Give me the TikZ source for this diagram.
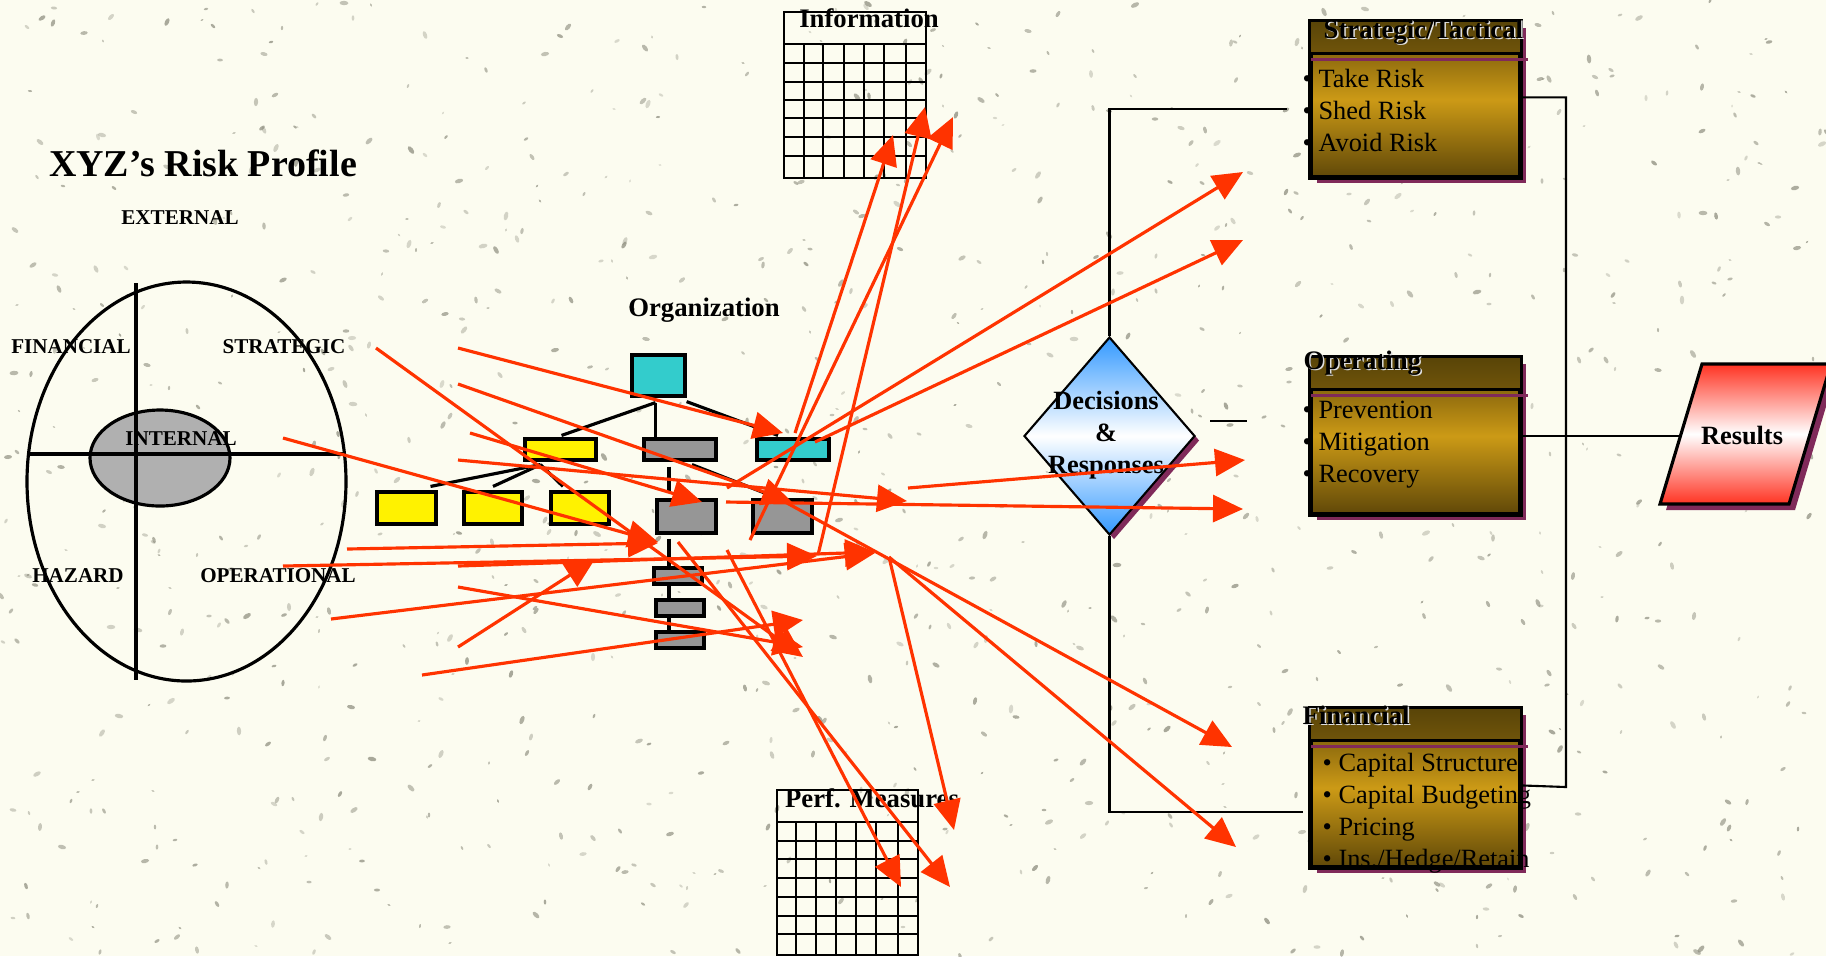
\documentclass[tikz,border=0pt]{standalone}
\usepackage{fontspec}
\setmainfont{Liberation Serif}
\usetikzlibrary{arrows.meta,calc,positioning,shapes.geometric,shadows}

\definecolor{paper}{RGB}{252,252,240}
\definecolor{speck}{RGB}{140,140,125}
\definecolor{riskred}{RGB}{255,51,0}
\definecolor{tealbox}{RGB}{51,204,204}
\definecolor{graybox}{RGB}{150,150,150}
\definecolor{plum}{RGB}{128,42,90}
\definecolor{ochre}{RGB}{204,154,22}
\definecolor{umber}{RGB}{96,72,8}
\definecolor{umberdark}{RGB}{88,68,8}
\definecolor{skyblue}{RGB}{51,153,255}
\definecolor{alarm}{RGB}{255,51,34}

\begin{document}
\begin{tikzpicture}[x=0.1mm,y=-0.1mm,
  every node/.style={inner sep=0pt},
  caps/.style={font=\fontsize{6}{7}\selectfont\bfseries},
  heading/.style={font=\fontsize{7.6}{9}\selectfont\bfseries},
  boxlist/.style={font=\fontsize{7.5}{9.1}\selectfont,align=left,anchor=west},
  orgbox/.style={draw=black,line width=0.9pt},
  orgline/.style={draw=black,line width=0.9pt},
  wire/.style={draw=black,line width=0.6pt},
  gridline/.style={draw=black,line width=0.6pt},
  riskbox/.style={draw=black,line width=0.9pt,minimum width=20.9mm,
    top color=umber,bottom color=umber,middle color=ochre,
    drop shadow={shadow xshift=0.6mm,shadow yshift=-0.6mm,fill=plum,opacity=1}},
  riskarrow/.style={draw=riskred,line width=0.9pt,-{Triangle[length=3mm,width=2.7mm]}}]

  % paper and speckles
  \fill[paper] (0,0) rectangle (1826,956);
  \useasboundingbox (0,0) rectangle (1826,956);
  \pgfmathsetseed{42}
  \foreach \i in {1,...,1000}{
    \pgfmathsetmacro\sx{random(0,1826)}
    \pgfmathsetmacro\sy{random(0,956)}
    \pgfmathsetmacro\sr{1.5+3*rnd}
    \pgfmathsetmacro\sa{random(0,179)}
    \pgfmathsetmacro\so{0.3+0.45*rnd}
    \fill[speck,fill opacity=\so,rotate around={\sa:(\sx,\sy)}]
      (\sx,\sy) ellipse [x radius=\sr, y radius=0.5*\sr];
  }

  % risk profile
  \node[font=\fontsize{10.8}{13}\selectfont\bfseries] (title) at (203,163) {XYZ’s Risk Profile};
  \node[caps] (external) at (180,218) {EXTERNAL};
  \node[ellipse,draw=black,line width=0.9pt,minimum width=31.9mm,minimum height=39.9mm] (outer) at (186.5,481.5) {};
  \node[ellipse,draw=black,line width=0.9pt,fill=graybox!75,minimum width=14mm,minimum height=9.6mm] (inner) at (160,458) {};
  \coordinate (vtop) at (136,283);
  \coordinate (vbot) at (136,680);
  \coordinate (hlft) at (27,454);
  \coordinate (hrgt) at (346,454);
  \draw[orgline] (vtop) -- (vbot);
  \draw[orgline] (hlft) -- (hrgt);
  \node[caps] (financial) at (71,347) {FINANCIAL};
  \node[caps] (strategic) at (284,347) {STRATEGIC};
  \node[caps] (internal) at (181,439) {INTERNAL};
  \node[caps] (hazard) at (78,576) {HAZARD};
  \node[caps] (operational) at (278,576) {OPERATIONAL};

  % organization chart
  \node[heading] (orglabel) at (704,310) {Organization};
  \node[orgbox,fill=tealbox,minimum width=5.3mm,minimum height=4.1mm] (topbox) at (658.5,375.5) {};
  \node[orgbox,fill=yellow,minimum width=7.1mm,minimum height=2.1mm] (y2) at (560.5,449.5) {};
  \node[orgbox,fill=graybox,minimum width=7.2mm,minimum height=2.1mm] (g2) at (680,449.5) {};
  \node[orgbox,fill=tealbox,minimum width=7.2mm,minimum height=2.1mm] (c2) at (793,449.5) {};
  \node[orgbox,fill=yellow,minimum width=5.9mm,minimum height=3.2mm] (y3a) at (406.5,508) {};
  \node[orgbox,fill=yellow,minimum width=5.8mm,minimum height=3.2mm] (y3b) at (493,508) {};
  \node[orgbox,fill=yellow,minimum width=5.8mm,minimum height=3.2mm] (y3c) at (580,508) {};
  \node[orgbox,fill=graybox,minimum width=5.9mm,minimum height=3.3mm] (g3a) at (686.5,516.5) {};
  \node[orgbox,fill=graybox,minimum width=5.9mm,minimum height=3.3mm] (g3b) at (782.5,516.5) {};
  \node[orgbox,fill=graybox,minimum width=4.8mm,minimum height=1.6mm] (s1) at (678,576) {};
  \node[orgbox,fill=graybox,minimum width=4.8mm,minimum height=1.6mm] (s2) at (680,608) {};
  \node[orgbox,fill=graybox,minimum width=4.8mm,minimum height=1.6mm] (s3) at (680,640) {};

  \coordinate (topfoot) at ($(topbox.south)+(-3,5)$);
  \coordinate (yfan) at ($(y2.south)+(-20,3)$);
  \coordinate (spine) at (669,0);
  \draw[orgline] (topfoot) -- ($(y2.north)+(1,-2)$);
  \draw[orgline] (topfoot) -- (topfoot |- g2.north);
  \draw[orgline] ($(topbox.south east)+(0,4)$) -- ($(c2.north)+(-15,-2)$);
  \draw[orgline] (yfan) -- ($(y3a.north)+(24,-4)$);
  \draw[orgline] (yfan) -- ($(y3b.north)+(0,-4)$);
  \draw[orgline] (yfan) -- ($(y3c.north)+(-17,-4)$);
  \draw[orgline] ($(g2.south)+(12,3)$) -- ($(g3b.north)+(-4,0)$);
  \draw[orgline] ($(g2.south -| spine)+(0,5)$) -- ($(g3a.north -| spine)+(0,-5)$);
  \draw[orgline] ($(g3a.south -| spine)+(0,4)$) -- (s1.north -| spine);
  \draw[orgline] (s1.south -| spine) -- (s2.north -| spine);
  \draw[orgline] (s2.south -| spine) -- (s3.north -| spine);

  % information and measures grids
  \draw[gridline] (784,12) rectangle (926,178);
  \draw[gridline] (784,44) -- (926,44);
  \foreach \gx in {804,823,844,864,884,906} \draw[gridline] (\gx,44) -- (\gx,178);
  \foreach \gy in {63,82,100,118,137,156} \draw[gridline] (784,\gy) -- (926,\gy);
  \node[heading] (info) at (869,18) {Information};

  \draw[gridline] (777,790) rectangle (918,955);
  \draw[gridline] (777,822) -- (918,822);
  \foreach \gx in {796,816,836,856,876,898} \draw[gridline] (\gx,822) -- (\gx,955);
  \foreach \gy in {841,859,878,897,916,934} \draw[gridline] (777,\gy) -- (918,\gy);
  \node[heading] (perf) at (872,798) {Perf. Measures};

  % decisions
  \node[diamond,draw=black,line width=0.6pt,minimum width=17.1mm,minimum height=19.8mm,
    top color=skyblue,bottom color=skyblue,middle color=white,
    drop shadow={shadow xshift=0.45mm,shadow yshift=-0.45mm,fill=plum,opacity=1}] (decide) at (1109.5,436) {};
  \node[heading,align=center,font=\fontsize{7.5}{9.1}\selectfont\bfseries] (dtext) at (1106,435) {Decisions\\\&\\Responses};
  \coordinate (stratin) at (1287,109);
  \coordinate (finin) at (1303,812);
  \coordinate (stubA) at (1210,421);
  \coordinate (stubB) at (1247,421);
  \draw[wire] (decide.north) |- (stratin);
  \draw[wire] (decide.south) |- (finin);
  \draw[wire] (stubA) -- (stubB);

  % response boxes
  \node[riskbox,minimum height=15.5mm] (strat) at (1415.5,99.5) {};
  \node[riskbox,minimum height=15.6mm] (oper) at (1415.5,436) {};
  \node[riskbox,minimum height=15.8mm] (fin) at (1415.5,788) {};
  \foreach \b in {strat,oper,fin}{
    \shade[top color=umberdark,bottom color=umber!85!ochre] (\b.north west) rectangle ($(\b.north east)+(0,33)$);
    \draw[orgbox] (\b.north west) rectangle (\b.south east);
    \draw[orgline] ($(\b.north west)+(0,33)$) -- ($(\b.north east)+(0,33)$);
    \draw[plum,line width=0.8pt] ($(\b.north west)+(2,39)$) -- ($(\b.north east)+(6,39)$);
  }
  \node[heading,anchor=west,text=white!75!gray] (strattitleshade) at (1324.5,33.5) {Strategic/Tactical};
  \node[heading,anchor=west] (strattitle) at (1323,32) {Strategic/Tactical};
  \node[heading,anchor=west,text=white!75!gray] (opertitleshade) at (1304.5,364.5) {Operating};
  \node[heading,anchor=west] (opertitle) at (1303,363) {Operating};
  \node[heading,anchor=west,text=white!75!gray] (fintitleshade) at (1303.5,716.5) {Financial};
  \node[heading,anchor=west] (fintitle) at (1302,715) {Financial};
  \node[boxlist] (stratlist) at (1302,110) {• Take Risk\\• Shed Risk\\• Avoid Risk};
  \node[boxlist] (operlist) at (1302,445) {• Prevention\\• Mitigation\\• Recovery};
  \node[boxlist] (finlist) at (1322,813) {• Capital Structure\\• Capital Budgeting\\• Pricing\\• Ins./Hedge/Retain};

  % results
  \fill[plum] (1666,510) -- (1708,370) -- (1837,370) -- (1795,510) -- cycle;
  \shadedraw[top color=alarm,bottom color=alarm,middle color=white,draw=black,line width=0.9pt]
    (1660,504) -- (1702,364) -- (1831,364) -- (1789,504) -- cycle;
  \node[heading,font=\fontsize{7.5}{9}\selectfont\bfseries] (results) at (1742,435) {Results};
  \coordinate (resultsin) at (1681,436);
  \coordinate (busBot) at (1566,787);
  \draw[wire] ($(strat.north east)+(0,77)$) -| (busBot) -- ($(fin.north east)+(0,78)$);
  \draw[wire] (oper.east) -- (resultsin);

  % risk flows
  \foreach \ax/\ay/\bx/\by [count=\k] in {
      458/348/783/433, 376/348/803/657, 458/384/792/502, 283/438/658/542,
      470/433/702/502, 458/460/907/501, 347/549/658/543, 283/566/817/556,
      458/566/875/552, 331/619/875/553, 458/587/803/647, 458/647/595/559,
      422/675/803/620, 795/433/893/135, 750/540/953/117, 818/555/925/107,
      727/488/1243/172, 815/442/1243/240, 908/488/1245/460, 726/502/1243/509,
      776/497/1232/747, 889/557/1236/847, 889/557/954/830, 678/542/950/887,
      727/550/901/887}{
    \coordinate (rs\k) at (\ax,\ay);
    \coordinate (rt\k) at (\bx,\by);
    \draw[riskarrow] (rs\k) -- (rt\k);
  }
\end{tikzpicture}
\end{document}
